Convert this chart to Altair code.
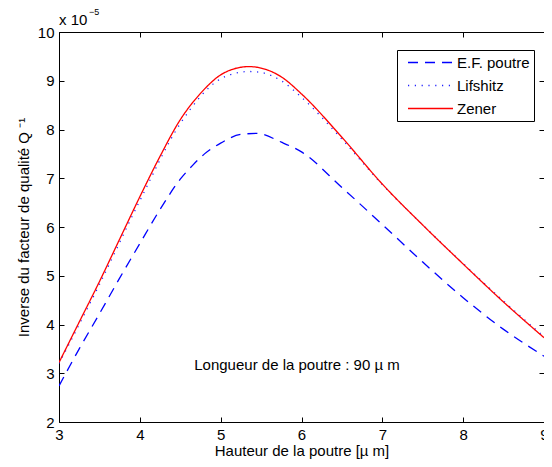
import altair as alt
import pandas as pd

# Data (values in units of 1e-5)
zener_h = [3.0, 3.25, 3.5, 3.75, 4.0, 4.25, 4.5, 4.75, 5.0, 5.2, 5.35, 5.5, 5.75, 6.0, 6.5, 7.0, 7.5, 8.0, 8.5, 9.0]
zener_q = [3.22, 4.05, 4.88, 5.75, 6.62, 7.45, 8.2, 8.74, 9.12, 9.26, 9.29, 9.26, 9.08, 8.73, 7.84, 6.88, 6.04, 5.24, 4.46, 3.73]

lif_h = [3.0, 3.5, 4.0, 4.5, 5.0, 5.2, 5.35, 5.5, 5.75, 6.0, 6.5, 7.0, 7.5, 8.0, 8.5, 9.0]
lif_q = [3.2, 4.82, 6.54, 8.12, 9.04, 9.16, 9.19, 9.17, 9.0, 8.66, 7.8, 6.87, 6.04, 5.25, 4.48, 3.75]

ef_h = [3.0, 3.25, 3.5, 3.75, 4.0, 4.25, 4.5, 4.65, 4.8, 5.0, 5.25, 5.45, 5.75, 6.0, 6.5, 7.0, 7.5, 8.0, 8.5, 9.0]
ef_q = [2.74, 3.5, 4.22, 4.95, 5.66, 6.36, 6.98, 7.26, 7.5, 7.72, 7.9, 7.92, 7.74, 7.54, 6.81, 6.05, 5.28, 4.55, 3.9, 3.35]

series_names = ["E.F. poutre", "Lifshitz", "Zener"]
series_colors = ["#0000ff", "#2222ff", "#ff0000"]
series_dash = [[10, 7], [1.2, 5.6], [1, 0]]

x_ticks = [3, 4, 5, 6, 7, 8, 9]
y_ticks = [2, 3, 4, 5, 6, 7, 8, 9, 10]

rows = []
for name, hs, qs in [("E.F. poutre", ef_h, ef_q), ("Lifshitz", lif_h, lif_q), ("Zener", zener_h, zener_q)]:
    for h, q in zip(hs, qs):
        rows.append({"h": h, "q": q, "serie": name})
df = pd.DataFrame(rows)

W, H = 485, 390
FONT = "Liberation Sans"
FS = 15

xscale = alt.Scale(domain=[3, 9], nice=False, zero=False)
yscale = alt.Scale(domain=[2, 10], nice=False, zero=False)

common_axis = dict(labelFont=FONT, titleFont=FONT, labelFontSize=FS, titleFontSize=FS,
                   labelColor="black", titleColor="black", tickColor="black",
                   titleFontWeight="normal", tickWidth=1, grid=False, domain=False,
                   offset=-5, tickSize=5, labelFlush=False)

lines = alt.Chart(df).mark_line(strokeWidth=1.3, interpolate="monotone", clip=True).encode(
    x=alt.X("h:Q", scale=xscale,
            axis=alt.Axis(orient="bottom", values=x_ticks, title="Hauteur de la poutre [µ m]",
                          labelPadding=5, titlePadding=1.8, **common_axis)),
    y=alt.Y("q:Q", scale=yscale,
            axis=alt.Axis(orient="left", values=y_ticks, title="Inverse du facteur de qualité Q ⁻¹",
                          labelPadding=5, titlePadding=6, **common_axis)),
    color=alt.Color("serie:N", scale=alt.Scale(domain=series_names, range=series_colors),
                    legend=alt.Legend(title=None, orient="none", legendX=338, legendY=18,
                                      symbolType="M-0.2,0L5.8,0", symbolSize=225,
                                      symbolStrokeWidth=1.3,
                                      labelFontSize=FS, labelFont=FONT, labelColor="black",
                                      labelOffset=39, strokeColor="black",
                                      fillColor="white", padding=4, rowPadding=6)),
    strokeDash=alt.StrokeDash("serie:N", scale=alt.Scale(domain=series_names, range=series_dash),
                              legend=None),
)

ghost = alt.Chart(df).mark_line(opacity=0).encode(
    x=alt.X("h:Q", scale=xscale,
            axis=alt.Axis(orient="top", values=x_ticks, title=None, labels=False, **common_axis)),
    y=alt.Y("q:Q", scale=yscale,
            axis=alt.Axis(orient="right", values=y_ticks, title=None, labels=False, **common_axis)),
)

ann_df = pd.DataFrame({"h": [5.944], "q": [3.17], "t": ["Longueur de la poutre : 90 µ m"]})
ann = alt.Chart(ann_df).mark_text(font=FONT, fontSize=FS, align="center", baseline="middle",
                                  color="black").encode(
    x=alt.X("h:Q", scale=xscale, axis=None),
    y=alt.Y("q:Q", scale=yscale, axis=None),
    text="t:N",
)

exp_df = pd.DataFrame({"h": [3.0], "q": [10.0], "t": ["x 10"]})
exp_txt = alt.Chart(exp_df).mark_text(font=FONT, fontSize=FS, align="left", baseline="alphabetic",
                                      dy=-7, color="black").encode(
    x=alt.X("h:Q", scale=xscale, axis=None),
    y=alt.Y("q:Q", scale=yscale, axis=None),
    text="t:N",
)
exp_df2 = pd.DataFrame({"h": [3.0], "q": [10.0], "t": ["−5"]})
exp_sup = alt.Chart(exp_df2).mark_text(font=FONT, fontSize=9, align="left", baseline="alphabetic",
                                       dx=30, dy=-17, color="black").encode(
    x=alt.X("h:Q", scale=xscale, axis=None),
    y=alt.Y("q:Q", scale=yscale, axis=None),
    text="t:N",
)

chart = alt.layer(lines, ghost, ann, exp_txt, exp_sup).resolve_axis(
    x="independent", y="independent"
).properties(
    width=W, height=H,
    autosize=alt.AutoSizeParams(type="none"),
    padding={"left": 51, "top": 24, "right": 0, "bottom": 37},
).configure_view(
    stroke="black", strokeWidth=1
)

chart.save("out.html", embed_options={"renderer": "svg", "actions": False})
